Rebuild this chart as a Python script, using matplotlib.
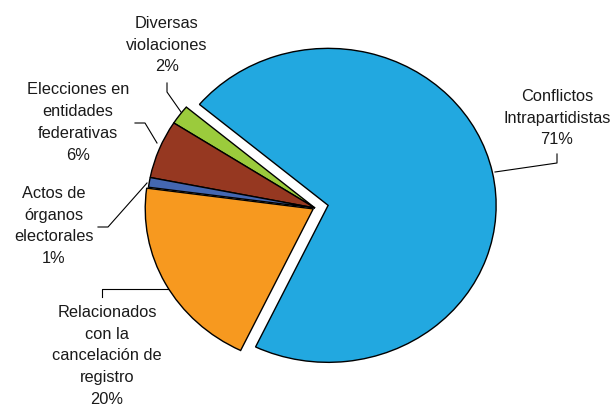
import matplotlib
matplotlib.use('Agg')
import matplotlib.pyplot as plt
from matplotlib.lines import Line2D

categories = ['Conflictos\nIntrapartidistas', 'Diversas\nviolaciones',
              'Elecciones en\nentidades\nfederativas', 'Actos de\nórganos\nelectorales',
              'Relacionados\ncon la\ncancelación de\nregistro']
values = [71, 2, 6, 1, 20]
pct_labels = ['71%', '2%', '6%', '1%', '20%']
colors = ['#22A8E0', '#9BCB3C', '#963821', '#4467B1', '#F7991F']
explode = [0.08, 0, 0, 0, 0.012]

plt.rcParams['font.family'] = ['Liberation Sans', 'DejaVu Sans']

W, H = 613, 407
fig = plt.figure(figsize=(W / 100, H / 100), dpi=100)
cx, cy = 315, 208
rx, ry = 168, 157
R = 1.2
ax = fig.add_axes([(cx - R * rx) / W, (H - cy - R * ry) / H, 2 * R * rx / W, 2 * R * ry / H])
ax.pie(values, colors=colors, explode=explode, startangle=244.4, counterclock=True,
       wedgeprops=dict(edgecolor='black', linewidth=1.0), radius=1)
ax.set_xlim(-R, R)
ax.set_ylim(-R, R)
ax.set_aspect('auto')
ax.axis('off')

def px(x, y):
    return x / W, 1 - y / H

label_pos = [(557, 118), (167, 45), (78, 122.5), (54, 226), (107, 356)]
for cat, pct, (x, y) in zip(categories, pct_labels, label_pos):
    fx, fy = px(x, y)
    fig.text(fx, fy, cat + '\n' + pct, ha='center', va='center', multialignment='center',
             fontsize=11.8, linespacing=1.58, color='#1a1a1a')

leaders = [
    [(495, 172), (557, 163), (557, 154)],
    [(167, 83), (167, 92), (181, 112)],
    [(135, 123), (145, 123), (157, 143)],
    [(98, 227), (108, 227), (147, 183)],
    [(102, 297), (102, 289), (168, 289)],
]
for pts in leaders:
    xs = [px(*p)[0] for p in pts]
    ys = [px(*p)[1] for p in pts]
    fig.add_artist(Line2D(xs, ys, color='black', linewidth=0.8, transform=fig.transFigure))

fig.savefig('out.png', dpi=100)
